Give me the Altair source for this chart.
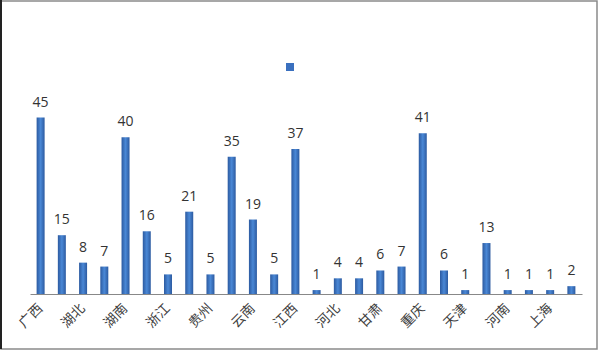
import altair as alt
import pandas as pd

# 26 categories; only every second one carries a visible axis label in the reference
labels = ["广西", "", "湖北", "", "湖南", "", "浙江", "", "贵州", "", "云南", "", "江西", "",
          "河北", "", "甘肃", "", "重庆", "", "天津", "", "河南", "", "上海", ""]
values = [45, 15, 8, 7, 40, 16, 5, 21, 5, 35, 19, 5, 37, 1, 4, 4, 6, 7, 41, 6, 1, 13, 1, 1, 1, 2]

df = pd.DataFrame({
    "idx": list(range(len(values))),
    "label": labels,
    "value": values,
    "series": ["s"] * len(values),
})

label_arr = "[" + ",".join("'" + l + "'" for l in labels) + "]"

W, H = 552, 196
PAD = {"left": 30, "top": 98, "right": 18, "bottom": 57}

x_enc = alt.X(
    "idx:O",
    title=None,
    scale=alt.Scale(paddingInner=0.0, paddingOuter=0.0),
    axis=alt.Axis(
        labelExpr=label_arr + "[datum.value]",
        labelAngle=-45,
        labelAlign="right",
        labelBaseline="middle",
        ticks=False,
        labelPadding=12,
        labelFont="Noto Sans CJK SC",
        labelFontSize=13.5,
        labelColor="#404040",
        domainColor="#888888",
        domainWidth=1,
        grid=False,
        labelOverlap=False,
    ),
)
y_enc = alt.Y("value:Q", title=None, scale=alt.Scale(domain=[0, 50]), axis=None)

grad = alt.Gradient(
    gradient="linear",
    x1=0, x2=1, y1=0, y2=0,
    stops=[
        alt.GradientStop(color="#2c5aa0", offset=0),
        alt.GradientStop(color="#4a88d6", offset=0.5),
        alt.GradientStop(color="#2c5aa0", offset=1),
    ],
)

bars = alt.Chart(df).mark_bar(size=8, color=grad).encode(x=x_enc, y=y_enc)

legend_layer = alt.Chart(df).mark_bar(size=8, opacity=0).encode(
    x=x_enc,
    y=y_enc,
    color=alt.Color(
        "series:N",
        scale=alt.Scale(range=["#3a70bf"]),
        legend=alt.Legend(
            orient="none",
            legendX=255,
            legendY=-36,
            title=None,
            symbolType="square",
            symbolSize=64,
            symbolOpacity=1,
            symbolStrokeWidth=0,
            labelExpr="''",
            padding=0,
        ),
    ),
)

text = alt.Chart(df).mark_text(
    baseline="bottom", dy=-8, fontSize=14, font="Open Sans", color="#333333"
).encode(x=x_enc, y=y_enc, text="value:Q")

frame = alt.Chart(df.head(1)).mark_rect(
    fill=None, stroke="#8a8a8a", strokeWidth=1.5
).encode(
    x=alt.value(-PAD["left"] + 1),
    x2=alt.value(W + PAD["right"] - 3),
    y=alt.value(-PAD["top"] + 1),
    y2=alt.value(H + PAD["bottom"] - 2),
)

left_edge = alt.Chart(df.head(1)).mark_rule(color="#222222", strokeWidth=2).encode(
    x=alt.value(-PAD["left"] + 1),
    y=alt.value(-PAD["top"]),
    y2=alt.value(H + PAD["bottom"] - 2),
)

chart = (
    alt.layer(bars, legend_layer, text, frame, left_edge)
    .properties(width=W, height=H, padding=PAD, background="white",
                autosize=alt.AutoSizeParams(type="none"))
    .configure_view(stroke="transparent", strokeWidth=0)
)

chart.save("out.html", embed_options={"renderer": "svg", "actions": False})
